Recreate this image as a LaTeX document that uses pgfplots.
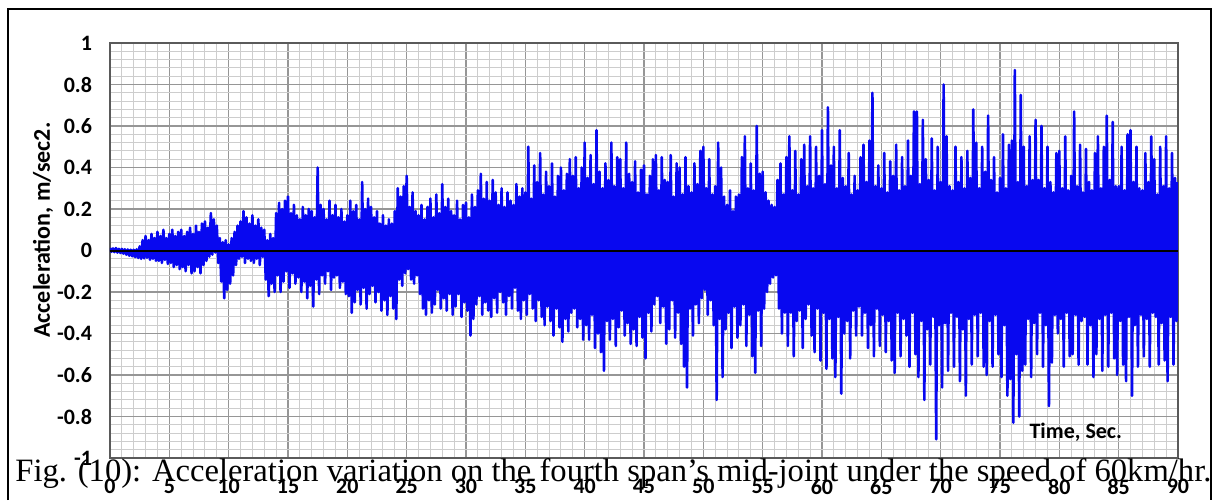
\documentclass[border=0pt]{standalone}
\usepackage{fontspec}
\setmainfont{Liberation Serif}
\newfontfamily\carlito{Carlito}
\usepackage{pgfplots}
\pgfplotsset{compat=1.18}
\definecolor{sigblue}{RGB}{8,8,240}
\definecolor{majgrid}{RGB}{150,150,150}
\definecolor{mingrid}{RGB}{205,205,205}
\definecolor{framegray}{RGB}{90,90,90}
\newcommand\lbl{\carlito\bfseries\fontsize{11}{13}\selectfont}

\begin{document}
\begin{tikzpicture}[x=1pt,y=1pt]
\useasboundingbox (-55,-21) rectangle (553.5,229);
% outer frame
\draw[black,line width=1pt] (-51,-21) -- (-51,224.5) -- (550.5,224.5) -- (550.5,-21);
\begin{axis}[
    scale only axis,
    width=534pt, height=207.5pt,
    xmin=0, xmax=90, ymin=-1, ymax=1,
    xtick={0,5,10,15,20,25,30,35,40,45,50,55,60,65,70,75,80,85,90},
    xticklabels={0,5,10,15,20,25,30,35,40,45,50,55,60,65,70,75,80,85,90},
    ytick={-1,-0.8,-0.6,-0.4,-0.2,0,0.2,0.4,0.6,0.8,1},
    yticklabels={-1,-0.8,-0.6,-0.4,-0.2,0,0.2,0.4,0.6,0.8,1},
    minor x tick num=4, minor y tick num=4,
    grid=both,
    major grid style={majgrid, line width=0.6pt},
    minor grid style={mingrid, line width=0.5pt},
    axis line style={framegray, line width=0.9pt},
    major tick length=0pt, minor tick length=0pt,
    tick label style={font=\lbl},
    yticklabel style={xshift=-5.5pt},
    xticklabel style={yshift=-7pt},
]
\addplot[sigblue, line width=1.3pt, line join=round, mark=none] coordinates {
(0,0.012)(0.125,-0.006)(0.25,0.010)(0.375,-0.008)(0.5,0.012)(0.625,-0.010)(0.75,0.008)(0.875,-0.012)
(1,0.008)(1.125,-0.015)(1.25,0.006)(1.375,-0.020)(1.5,0.005)(1.625,-0.025)(1.75,0.004)(1.875,-0.028)
(2,0.004)(2.125,-0.032)(2.25,0.006)(2.375,-0.036)(2.5,0.02)(2.625,-0.040)(2.75,0.05)(2.875,-0.038)
(3,0.07)(3.125,-0.035)(3.25,0.05)(3.375,-0.045)(3.5,0.08)(3.625,-0.04)(3.75,0.06)(3.875,-0.05)
(4,0.09)(4.125,-0.05)(4.25,0.07)(4.375,-0.06)(4.5,0.10)(4.625,-0.045)(4.75,0.06)(4.875,-0.065)
(5,0.08)(5.125,-0.06)(5.25,0.10)(5.375,-0.08)(5.5,0.07)(5.625,-0.07)(5.75,0.09)(5.875,-0.09)
(6,0.10)(6.125,-0.08)(6.25,0.07)(6.375,-0.10)(6.5,0.09)(6.625,-0.07)(6.75,0.11)(6.875,-0.11)
(7,0.08)(7.125,-0.10)(7.25,0.12)(7.375,-0.08)(7.5,0.09)(7.625,-0.11)(7.75,0.13)(7.875,-0.07)
(8,0.14)(8.125,-0.05)(8.25,0.11)(8.375,-0.03)(8.5,0.18)(8.625,-0.02)(8.75,0.15)(8.875,-0.01)
(9,0.12)(9.125,-0.06)(9.25,0.06)(9.375,-0.15)(9.5,0.04)(9.625,-0.23)(9.75,0.05)(9.875,-0.19)
(10,0.03)(10.125,-0.16)(10.25,0.06)(10.375,-0.12)(10.5,0.09)(10.625,-0.07)(10.75,0.12)(10.875,-0.04)
(11,0.14)(11.125,-0.03)(11.25,0.19)(11.375,-0.06)(11.5,0.16)(11.625,-0.04)(11.75,0.13)(11.875,-0.05)
(12,0.17)(12.125,-0.06)(12.25,0.12)(12.375,-0.04)(12.5,0.15)(12.625,-0.07)(12.75,0.11)(12.875,-0.03)
(13,0.10)(13.125,-0.14)(13.25,0.05)(13.375,-0.22)(13.5,0.08)(13.625,-0.16)(13.75,0.06)(13.875,-0.20)
(14,0.18)(14.125,-0.12)(14.25,0.23)(14.375,-0.20)(14.5,0.20)(14.625,-0.15)(14.75,0.24)(14.875,-0.10)
(15,0.26)(15.125,-0.18)(15.25,0.18)(15.375,-0.11)(15.5,0.22)(15.625,-0.16)(15.75,0.17)(15.875,-0.13)
(16,0.15)(16.125,-0.20)(16.25,0.21)(16.375,-0.15)(16.5,0.17)(16.625,-0.23)(16.75,0.20)(16.875,-0.17)
(17,0.19)(17.125,-0.27)(17.25,0.16)(17.375,-0.14)(17.5,0.40)(17.625,-0.21)(17.75,0.22)(17.875,-0.12)
(18,0.20)(18.125,-0.16)(18.25,0.15)(18.375,-0.10)(18.5,0.24)(18.625,-0.19)(18.75,0.17)(18.875,-0.13)
(19,0.22)(19.125,-0.12)(19.25,0.16)(19.375,-0.18)(19.5,0.20)(19.625,-0.15)(19.75,0.14)(19.875,-0.21)
(20,0.17)(20.125,-0.22)(20.25,0.24)(20.375,-0.30)(20.5,0.19)(20.625,-0.25)(20.75,0.22)(20.875,-0.19)
(21,0.15)(21.125,-0.26)(21.25,0.33)(21.375,-0.18)(21.5,0.20)(21.625,-0.28)(21.75,0.25)(21.875,-0.21)
(22,0.21)(22.125,-0.17)(22.25,0.16)(22.375,-0.25)(22.5,0.19)(22.625,-0.20)(22.75,0.13)(22.875,-0.29)
(23,0.17)(23.125,-0.24)(23.25,0.12)(23.375,-0.31)(23.5,0.15)(23.625,-0.22)(23.75,0.13)(23.875,-0.28)
(24,0.19)(24.125,-0.33)(24.25,0.30)(24.375,-0.14)(24.5,0.26)(24.625,-0.17)(24.75,0.31)(24.875,-0.11)
(25,0.36)(25.125,-0.09)(25.25,0.21)(25.375,-0.14)(25.5,0.28)(25.625,-0.16)(25.75,0.19)(25.875,-0.12)
(26,0.17)(26.125,-0.21)(26.25,0.22)(26.375,-0.28)(26.5,0.15)(26.625,-0.31)(26.75,0.21)(26.875,-0.24)
(27,0.25)(27.125,-0.30)(27.25,0.16)(27.375,-0.26)(27.5,0.27)(27.625,-0.19)(27.75,0.18)(27.875,-0.28)
(28,0.32)(28.125,-0.23)(28.25,0.21)(28.375,-0.29)(28.5,0.25)(28.625,-0.21)(28.75,0.19)(28.875,-0.31)
(29,0.17)(29.125,-0.27)(29.25,0.24)(29.375,-0.21)(29.5,0.15)(29.625,-0.32)(29.75,0.22)(29.875,-0.25)
(30,0.23)(30.125,-0.29)(30.25,0.16)(30.375,-0.41)(30.5,0.27)(30.625,-0.33)(30.75,0.21)(30.875,-0.26)
(31,0.29)(31.125,-0.22)(31.25,0.37)(31.375,-0.31)(31.5,0.25)(31.625,-0.25)(31.75,0.33)(31.875,-0.29)
(32,0.24)(32.125,-0.32)(32.25,0.34)(32.375,-0.23)(32.5,0.28)(32.625,-0.30)(32.75,0.22)(32.875,-0.20)
(33,0.30)(33.125,-0.25)(33.25,0.21)(33.375,-0.31)(33.5,0.28)(33.625,-0.22)(33.75,0.24)(33.875,-0.28)
(34,0.22)(34.125,-0.18)(34.25,0.32)(34.375,-0.29)(34.5,0.26)(34.625,-0.33)(34.75,0.30)(34.875,-0.24)
(35,0.28)(35.125,-0.31)(35.25,0.50)(35.375,-0.21)(35.5,0.25)(35.625,-0.28)(35.75,0.41)(35.875,-0.34)
(36,0.33)(36.125,-0.24)(36.25,0.47)(36.375,-0.32)(36.5,0.27)(36.625,-0.36)(36.75,0.38)(36.875,-0.27)
(37,0.31)(37.125,-0.34)(37.25,0.42)(37.375,-0.41)(37.5,0.26)(37.625,-0.28)(37.75,0.36)(37.875,-0.37)
(38,0.40)(38.125,-0.44)(38.25,0.29)(38.375,-0.33)(38.5,0.37)(38.625,-0.39)(38.75,0.44)(38.875,-0.30)
(39,0.36)(39.125,-0.28)(39.25,0.45)(39.375,-0.37)(39.5,0.30)(39.625,-0.33)(39.75,0.40)(39.875,-0.43)
(40,0.52)(40.125,-0.36)(40.25,0.35)(40.375,-0.43)(40.5,0.46)(40.625,-0.31)(40.75,0.32)(40.875,-0.47)
(41,0.58)(41.125,-0.40)(41.25,0.38)(41.375,-0.49)(41.5,0.30)(41.625,-0.58)(41.75,0.42)(41.875,-0.34)
(42,0.34)(42.125,-0.43)(42.25,0.52)(42.375,-0.33)(42.5,0.31)(42.625,-0.46)(42.75,0.45)(42.875,-0.37)
(43,0.44)(43.125,-0.29)(43.25,0.30)(43.375,-0.41)(43.5,0.52)(43.625,-0.35)(43.75,0.37)(43.875,-0.45)
(44,0.33)(44.125,-0.38)(44.25,0.43)(44.375,-0.46)(44.5,0.28)(44.625,-0.32)(44.75,0.39)(44.875,-0.42)
(45,0.41)(45.125,-0.52)(45.25,0.27)(45.375,-0.30)(45.5,0.36)(45.625,-0.39)(45.75,0.44)(45.875,-0.26)
(46,0.46)(46.125,-0.22)(46.25,0.29)(46.375,-0.35)(46.5,0.45)(46.625,-0.27)(46.75,0.34)(46.875,-0.45)
(47,0.33)(47.125,-0.38)(47.25,0.46)(47.375,-0.24)(47.5,0.26)(47.625,-0.42)(47.75,0.42)(47.875,-0.30)
(48,0.40)(48.125,-0.45)(48.25,0.27)(48.375,-0.56)(48.5,0.45)(48.625,-0.66)(48.75,0.31)(48.875,-0.28)
(49,0.28)(49.125,-0.41)(49.25,0.42)(49.375,-0.26)(49.5,0.32)(49.625,-0.35)(49.75,0.48)(49.875,-0.23)
(50,0.50)(50.125,-0.19)(50.25,0.30)(50.375,-0.31)(50.5,0.44)(50.625,-0.24)(50.75,0.27)(50.875,-0.36)
(51,0.31)(51.125,-0.72)(51.25,0.52)(51.375,-0.33)(51.5,0.40)(51.625,-0.61)(51.75,0.26)(51.875,-0.38)
(52,0.22)(52.125,-0.30)(52.25,0.29)(52.375,-0.47)(52.5,0.19)(52.625,-0.27)(52.75,0.26)(52.875,-0.42)
(53,0.27)(53.125,-0.36)(53.25,0.45)(53.375,-0.26)(53.5,0.55)(53.625,-0.46)(53.75,0.30)(53.875,-0.31)
(54,0.42)(54.125,-0.51)(54.25,0.29)(54.375,-0.59)(54.5,0.60)(54.625,-0.29)(54.75,0.37)(54.875,-0.46)
(55,0.38)(55.125,-0.28)(55.25,0.28)(55.375,-0.20)(55.5,0.24)(55.625,-0.16)(55.75,0.22)(55.875,-0.13)
(56,0.21)(56.125,-0.12)(56.25,0.34)(56.375,-0.28)(56.5,0.42)(56.625,-0.40)(56.75,0.27)(56.875,-0.30)
(57,0.45)(57.125,-0.46)(57.25,0.55)(57.375,-0.30)(57.5,0.29)(57.625,-0.51)(57.75,0.48)(57.875,-0.34)
(58,0.27)(58.125,-0.29)(58.25,0.44)(58.375,-0.47)(58.5,0.51)(58.625,-0.33)(58.75,0.31)(58.875,-0.26)
(59,0.55)(59.125,-0.41)(59.25,0.30)(59.375,-0.49)(59.5,0.50)(59.625,-0.28)(59.75,0.36)(59.875,-0.53)
(60,0.58)(60.125,-0.30)(60.25,0.32)(60.375,-0.57)(60.5,0.69)(60.625,-0.33)(60.75,0.41)(60.875,-0.52)
(61,0.50)(61.125,-0.61)(61.25,0.30)(61.375,-0.32)(61.5,0.58)(61.625,-0.69)(61.75,0.35)(61.875,-0.40)
(62,0.31)(62.125,-0.34)(62.25,0.47)(62.375,-0.52)(62.5,0.27)(62.625,-0.29)(62.75,0.36)(62.875,-0.41)
(63,0.29)(63.125,-0.27)(63.25,0.45)(63.375,-0.41)(63.5,0.51)(63.625,-0.30)(63.75,0.33)(63.875,-0.47)
(64,0.53)(64.125,-0.36)(64.25,0.76)(64.375,-0.51)(64.5,0.31)(64.625,-0.28)(64.75,0.41)(64.875,-0.46)
(65,0.30)(65.125,-0.31)(65.25,0.47)(65.375,-0.49)(65.5,0.28)(65.625,-0.34)(65.75,0.43)(65.875,-0.53)
(66,0.36)(66.125,-0.59)(66.25,0.51)(66.375,-0.30)(66.5,0.29)(66.625,-0.51)(66.75,0.45)(66.875,-0.33)
(67,0.31)(67.125,-0.41)(67.25,0.53)(67.375,-0.56)(67.5,0.36)(67.625,-0.30)(67.75,0.67)(67.875,-0.50)
(68,0.67)(68.125,-0.61)(68.25,0.32)(68.375,-0.34)(68.5,0.63)(68.625,-0.72)(68.75,0.44)(68.875,-0.38)
(69,0.34)(69.125,-0.55)(69.25,0.54)(69.375,-0.32)(69.5,0.29)(69.625,-0.91)(69.75,0.50)(69.875,-0.36)
(70,0.33)(70.125,-0.66)(70.25,0.80)(70.375,-0.35)(70.5,0.55)(70.625,-0.58)(70.75,0.31)(70.875,-0.30)
(71,0.29)(71.125,-0.56)(71.25,0.50)(71.375,-0.32)(71.5,0.33)(71.625,-0.63)(71.75,0.45)(71.875,-0.38)
(72,0.30)(72.125,-0.70)(72.25,0.48)(72.375,-0.33)(72.5,0.35)(72.625,-0.55)(72.75,0.68)(72.875,-0.31)
(73,0.52)(73.125,-0.51)(73.25,0.30)(73.375,-0.30)(73.5,0.50)(73.625,-0.56)(73.75,0.38)(73.875,-0.60)
(74,0.65)(74.125,-0.34)(74.25,0.34)(74.375,-0.56)(74.5,0.45)(74.625,-0.31)(74.75,0.28)(74.875,-0.50)
(75,0.35)(75.125,-0.61)(75.25,0.56)(75.375,-0.36)(75.5,0.30)(75.625,-0.70)(75.75,0.51)(75.875,-0.62)
(76,0.53)(76.125,-0.83)(76.25,0.87)(76.375,-0.50)(76.5,0.33)(76.625,-0.80)(76.75,0.75)(76.875,-0.58)
(77,0.50)(77.125,-0.55)(77.25,0.31)(77.375,-0.33)(77.5,0.55)(77.625,-0.61)(77.75,0.34)(77.875,-0.35)
(78,0.63)(78.125,-0.50)(78.25,0.34)(78.375,-0.30)(78.5,0.60)(78.625,-0.56)(78.75,0.30)(78.875,-0.36)
(79,0.50)(79.125,-0.75)(79.25,0.33)(79.375,-0.54)(79.5,0.28)(79.625,-0.31)(79.75,0.47)(79.875,-0.40)
(80,0.48)(80.125,-0.33)(80.25,0.30)(80.375,-0.56)(80.5,0.55)(80.625,-0.30)(80.75,0.29)(80.875,-0.51)
(81,0.36)(81.125,-0.50)(81.25,0.67)(81.375,-0.31)(81.5,0.31)(81.625,-0.55)(81.75,0.51)(81.875,-0.34)
(82,0.28)(82.125,-0.32)(82.25,0.49)(82.375,-0.55)(82.5,0.33)(82.625,-0.36)(82.75,0.29)(82.875,-0.61)
(83,0.47)(83.125,-0.50)(83.25,0.55)(83.375,-0.33)(83.5,0.30)(83.625,-0.58)(83.75,0.50)(83.875,-0.31)
(84,0.65)(84.125,-0.56)(84.25,0.34)(84.375,-0.30)(84.5,0.62)(84.625,-0.52)(84.75,0.31)(84.875,-0.60)
(85,0.31)(85.125,-0.34)(85.25,0.50)(85.375,-0.55)(85.5,0.29)(85.625,-0.63)(85.75,0.56)(85.875,-0.32)
(86,0.58)(86.125,-0.70)(86.25,0.33)(86.375,-0.36)(86.5,0.50)(86.625,-0.56)(86.75,0.30)(86.875,-0.31)
(87,0.29)(87.125,-0.51)(87.25,0.47)(87.375,-0.33)(87.5,0.33)(87.625,-0.56)(87.75,0.55)(87.875,-0.30)
(88,0.44)(88.125,-0.32)(88.25,0.27)(88.375,-0.55)(88.5,0.50)(88.625,-0.35)(88.75,0.31)(88.875,-0.53)
(89,0.55)(89.125,-0.63)(89.25,0.30)(89.375,-0.32)(89.5,0.47)(89.625,-0.55)(89.75,0.35)(89.875,-0.34)
(90,0.33)
};
% zero line
\addplot[black, line width=1pt, mark=none] coordinates {(0,0) (90,0)};
\node[anchor=west, font=\lbl] at (axis cs:76.9,-0.875) {Time, Sec.};
\end{axis}
\node[rotate=90, font=\carlito\bfseries\fontsize{12}{14}\selectfont] at (-33.5,114) {Acceleration, m/sec2.};
\node[anchor=base west, inner sep=0pt, font=\fontsize{16.3}{19}\selectfont] at (-47.5,-11.5)
  {Fig. (10): Acceleration variation on the fourth span’s mid-joint under the speed of 60km/hr.};
\end{tikzpicture}
\end{document}
